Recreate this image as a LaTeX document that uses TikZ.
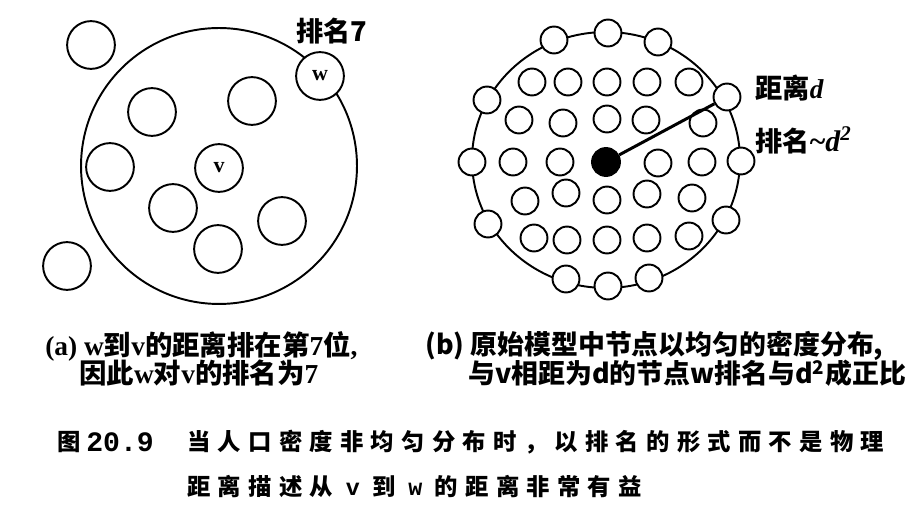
\documentclass[tikz,border=0pt]{standalone}
\usepackage{fontspec}
\setmainfont{Liberation Serif}
\setmonofont{Liberation Mono}
\newfontfamily\cjk{Noto Sans CJK SC}
\newfontfamily\capfont[LetterSpace=31]{Noto Sans CJK SC}
\newcommand{\lat}[1]{{\rmfamily\bfseries #1}}
\newcommand{\mono}[1]{{\ttfamily\bfseries #1}}

\begin{document}
\begin{tikzpicture}[x=0.02cm,y=-0.02cm,
  ball/.style={circle,draw,fill=white,line width=1.1pt,minimum size=27.2pt,inner sep=0pt,
    font=\rmfamily\bfseries\fontsize{12.5}{14}\selectfont},
  dot/.style={circle,draw,fill=white,line width=1.1pt,minimum size=15.3pt,inner sep=0pt},
  lbl/.style={inner sep=0pt,font=\cjk\bfseries\fontsize{15.5}{18}\selectfont},
  captext/.style={inner sep=0pt,anchor=west,font=\cjk\bfseries\fontsize{15.6}{18}\selectfont},
  figcap/.style={inner sep=0pt,anchor=west,font=\capfont\bfseries\fontsize{13.3}{16}\selectfont}]
\useasboundingbox (0,0) rectangle (913,516);

% (a)
\draw[line width=1.1pt] (219,166) circle [radius=2.76cm];
\node[ball] (out1) at (91,45) {};
\node[ball] (out2) at (67,266) {};
\node[ball] (p1) at (152,112) {};
\node[ball] (p2) at (252,101) {};
\node[ball] (p3) at (110,167) {};
\node[ball] (p4) at (173,208) {};
\node[ball] (p5) at (282,221) {};
\node[ball] (p6) at (218,249) {};
\node[ball] (v) at (219,168) {v};
\node[ball] (w) at (320,76) {w};
\node[lbl] (rank7) at (332,31) {排名7};

% (b)
\draw[line width=1.1pt] (606,160) ellipse [x radius=2.68cm,y radius=2.56cm];
\foreach \x/\y [count=\i] in {554/40,608/33,658/42,487/100,727/97,472/162,
    741/161,488/224,726/220,566/279,608/286,649/278}
  \node[dot] (o\i) at (\x,\y) {};
\foreach \x/\y [count=\i] in {532/82,568/82,607/82,647/82,689/82,
    519/120,563/123,607/119,646/120,703/123,
    513/162,560/162,658/163,702/162,
    525/201,566/193,607/200,647/194,692/198,
    534/238,567/240,607/240,647/238,689/236}
  \node[dot] (g\i) at (\x,\y) {};
\node[dot,fill=black,minimum size=15.9pt] (c) at (606,162) {};
\draw[line width=1.7pt] (c) -- (o5);
\node[lbl,anchor=west] (dist) at (755,88) {距离{\rmfamily\bfseries\itshape d}};
\node[lbl,anchor=west] (rankd) at (755,140) {排名{\rmfamily\bfseries\fontsize{17}{18}\selectfont\textasciitilde\itshape d\textsuperscript{2}}};

% captions
\node[captext] (capa1) at (45,346) {\lat{(a) w}到\lat{v}的距离排在第\lat{7}位\lat{,}};
\node[captext] (capa2) at (79,373) {因此\lat{w}对\lat{v}的排名为\lat{7}};
\node[captext,font=\cjk\bfseries\fontsize{15.3}{18}\selectfont] (capb1) at (425,346) {(b) 原始模型中节点以均匀的密度分布,};
\node[captext,font=\cjk\bfseries\fontsize{15.3}{18}\selectfont] (capb2) at (468,373) {与v相距为d的节点w排名与d\textsuperscript{2}成正比};

\node[figcap] (fig) at (57,442) {图};
\node[figcap] (fignum) at (86,442) {\mono{\fontsize{16}{18}\selectfont 20.9}};
\node[figcap] (fig1) at (187,442) {当人口密度非均匀分布时，以排名的形式而不是物理};
\node[figcap] (fig2) at (187,487) {距离描述从 \mono{v} 到 \mono{w} 的距离非常有益};
\end{tikzpicture}
\end{document}
